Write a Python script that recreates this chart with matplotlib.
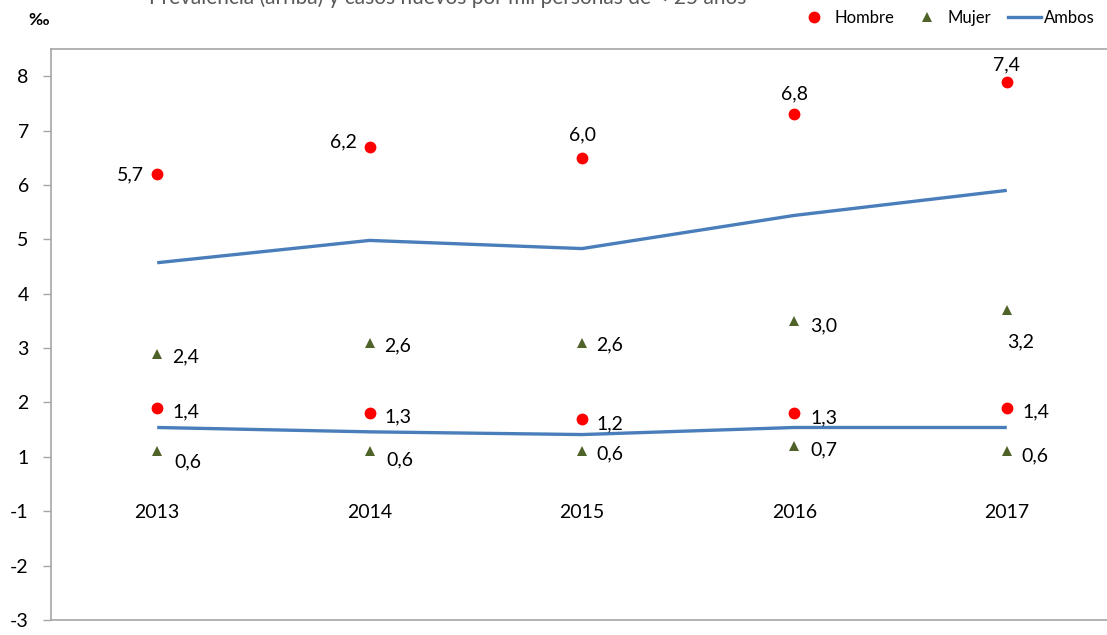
import matplotlib
matplotlib.use('Agg')
from matplotlib import pyplot as plt
from matplotlib.lines import Line2D

plt.rcParams['font.family'] = ['Lato', 'DejaVu Sans']

years = ['2013', '2014', '2015', '2016', '2017']

# prevalencia (arriba)
hombre_prev = [5.7, 6.2, 6.0, 6.8, 7.4]
mujer_prev = [2.4, 2.6, 2.6, 3.0, 3.2]
ambos_prev = [4.07, 4.48, 4.33, 4.94, 5.40]

# casos nuevos (abajo)
hombre_inc = [1.4, 1.3, 1.2, 1.3, 1.4]
mujer_inc = [0.6, 0.6, 0.6, 0.7, 0.6]
ambos_inc = [1.04, 0.96, 0.91, 1.04, 1.04]

ytick_labels = ['-3', '-2', '-1', '1', '2', '3', '4', '5', '6', '7', '8']

title = 'Prevalencia (arriba) y casos nuevos por mil personas de < 25 años'

RED = '#FF0000'
GREEN = '#4F6228'
BLUE = '#4A7EBB'
GRID = '#A6A6A6'
FS = 14

# label offsets in pixels (dx, dy, ha)
off_hombre_prev = [(-13, 1, 'right'), (-13, 7, 'right'), (0, 24, 'center'), (0, 22, 'center'), (0, 18, 'center')]
off_hombre_inc = [(15, -2, 'left'), (15, -2, 'left'), (14, -4, 'left'), (16, -3, 'left'), (16, -2, 'left')]
off_mujer_prev = [(15, -2, 'left'), (15, -2, 'left'), (14, -1, 'left'), (16, -3, 'left'), (14, -30, 'center')]
off_mujer_inc = [(17, -9, 'left'), (17, -7, 'left'), (14, -1, 'left'), (16, -2, 'left'), (15, -3, 'left')]

fig = plt.figure(figsize=(11.07, 6.35), dpi=100)
ax = fig.add_axes([51 / 1107, 15 / 635, 1062 / 1107, 571 / 635])

x = list(range(len(years)))

ax.plot(x, ambos_prev, color=BLUE, lw=2.4, solid_capstyle='butt')
ax.plot(x, ambos_inc, color=BLUE, lw=2.4, solid_capstyle='butt')
ax.plot(x, hombre_prev, 'o', color=RED, ms=8.5, mew=0)
ax.plot(x, hombre_inc, 'o', color=RED, ms=8.5, mew=0)
ax.plot(x, mujer_prev, '^', color=GREEN, ms=7.5, mew=0)
ax.plot(x, mujer_inc, '^', color=GREEN, ms=7.5, mew=0)


def add_labels(values, offsets):
    for i, v in enumerate(values):
        dx, dy, ha = offsets[i]
        ax.annotate('{:.1f}'.format(v).replace('.', ','), (i, v), xytext=(dx, dy),
                    textcoords='offset pixels', ha=ha, va='center_baseline',
                    fontsize=FS, color='black')


add_labels(hombre_prev, off_hombre_prev)
add_labels(hombre_inc, off_hombre_inc)
add_labels(mujer_prev, off_mujer_prev)
add_labels(mujer_inc, off_mujer_inc)

for i, yr in enumerate(years):
    ax.text(i, -0.5, yr, ha='center', va='center_baseline', fontsize=FS)

ax.set_xlim(-0.5, len(years) - 0.5)
ax.set_ylim(-2.5, 8.0)
ax.set_yticks([v - 3.5 for v in range(1, 12)])
ax.set_yticklabels(ytick_labels, fontsize=FS)
ax.set_xticks([])
ax.tick_params(axis='y', length=6, width=1, color=GRID, pad=10)

for side in ['left', 'top', 'bottom']:
    ax.spines[side].set_color(GRID)
    ax.spines[side].set_linewidth(1.2)
ax.spines['right'].set_visible(False)

fig.text(28 / 1107, 1 - 20 / 635, '‰', fontsize=12.5, fontweight='bold', va='center')
fig.text(448 / 1107, 1 - 4 / 635, title, fontsize=15, color='#595959', ha='center', va='baseline')

handles = [
    Line2D([], [], ls='none', marker='o', color=RED, ms=8.5, mew=0),
    Line2D([], [], ls='none', marker='^', color=GREEN, ms=7.5, mew=0),
    Line2D([], [], color=BLUE, lw=2.4),
]
fig.legend(handles, ['Hombre', 'Mujer', 'Ambos'], loc='center right',
           bbox_to_anchor=(1095 / 1107, 1 - 18 / 635), ncol=3, frameon=False,
           fontsize=12, handlelength=2.0, handletextpad=0.2, columnspacing=1.0,
           borderpad=0, borderaxespad=0)

fig.savefig('out.png', dpi=100)
